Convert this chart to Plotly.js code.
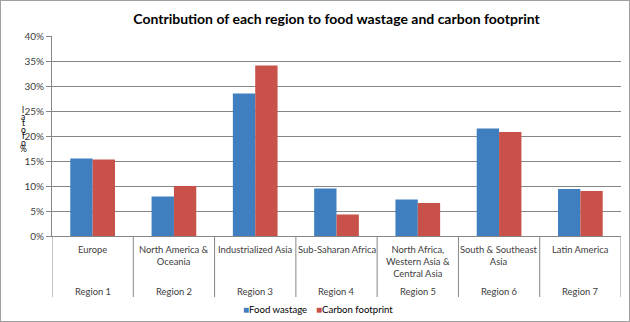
<!DOCTYPE html>
<html>
<head>
<meta charset="utf-8">
<script src="https://cdn.plot.ly/plotly-3.0.1.min.js"></script>
<style>
html,body{margin:0;padding:0;background:#fff;}
#wrap{position:relative;width:630px;height:322px;}
#chart{width:630px;height:322px;}
#frame{position:absolute;left:0;top:0;width:630px;height:322px;box-sizing:border-box;border:1px solid #a0a0a0;pointer-events:none;}
</style>
</head>
<body>
<div id="wrap"><div id="chart"></div><div id="frame"></div></div>
<script>
const regionCodes = ["Region 1","Region 2","Region 3","Region 4","Region 5","Region 6","Region 7"];
const regionNames = ["Europe","North America &<br>Oceania","Industrialized Asia","Sub-Saharan Africa","North Africa,<br>Western Asia &<br>Central Asia","South & Southeast<br>Asia","Latin America"];
const foodWastage = [0.155, 0.079, 0.285, 0.095, 0.073, 0.215, 0.094];
const carbonFootprint = [0.153, 0.100, 0.341, 0.043, 0.066, 0.208, 0.090];
const yTickVals = [0,0.05,0.10,0.15,0.20,0.25,0.30,0.35,0.40];
const yTickText = ["0%","5%","10%","15%","20%","25%","30%","35%","40%"];
const yTitleGlyphs = ["l","a","t","o","f","o","%"];
const seriesNames = ["Food wastage","Carbon footprint"];
const seriesColors = ["#3f7fbf","#c8524a"];

const FONT = "Lato, 'Open Sans', sans-serif";
const L = 52, R = 621, T = 36, B = 236, W = 630, H = 322;
const py = p => (B - p) / (B - T);   // pixel row -> paper y
const px = p => (p - L) / (R - L);   // pixel col -> paper x

const traces = [
  {type:"bar", name:seriesNames[0], x:regionCodes, y:foodWastage,
   marker:{color:seriesColors[0]}, showlegend:false},
  {type:"bar", name:seriesNames[1], x:regionCodes, y:carbonFootprint,
   marker:{color:seriesColors[1]}, showlegend:false}
];

const annotations = [];
yTitleGlyphs.forEach((g,i)=>annotations.push({
  text:g, xref:"paper", yref:"paper", showarrow:false,
  x:px(23), y:py(110+i*6.5), xanchor:"center", yanchor:"middle",
  font:{family:FONT, size:8.5, color:"#000"}
}));
regionCodes.forEach((c,i)=>{
  annotations.push({text:regionNames[i], x:c, xref:"x", yref:"paper", y:py(242), yanchor:"top",
    xanchor:"center", align:"center", showarrow:false,
    font:{family:FONT, size:9.4, color:"#404040"}});
  annotations.push({text:c, x:c, xref:"x", yref:"paper", y:py(291), yanchor:"middle",
    xanchor:"center", showarrow:false,
    font:{family:FONT, size:9.4, color:"#404040"}});
});
// legend: coloured square + series name
const legendX = [241, 314];
seriesNames.forEach((n,i)=>annotations.push({
  text:"<span style='color:" + seriesColors[i] + ";font-size:10px'>■</span>" + n,
  xref:"paper", yref:"paper", x:px(legendX[i]), y:py(309), xanchor:"left", yanchor:"middle",
  showarrow:false, font:{family:FONT, size:9.6, color:"#000"}
}));

const shapes = [];
for (let i = 0; i <= regionCodes.length; i++) {
  shapes.push({type:"line", xref:"x", yref:"paper", x0:i-0.5, x1:i-0.5, y0:0, y1:py(297),
    line:{color:"#868686", width:1}});
}

const layout = {
  width:W, height:H,
  margin:{l:L, r:W-R, t:T, b:H-B, pad:0, autoexpand:false},
  paper_bgcolor:"#fff", plot_bgcolor:"#fff",
  title:{text:"<b>Contribution of each region to food wastage and carbon footprint</b>",
    x:0.5, xref:"paper", y:1-19/H, yref:"container", yanchor:"middle", xanchor:"center",
    font:{family:FONT, size:14, color:"#000"}},
  font:{family:FONT, size:10, color:"#404040"},
  barmode:"group", bargap:0.45, bargroupgap:0,
  xaxis:{type:"category", range:[-0.5, regionCodes.length-0.5], showline:true, linecolor:"#868686", linewidth:1,
    showticklabels:false, automargin:false, showgrid:false, ticks:"", fixedrange:true},
  yaxis:{range:[0,0.4], tickvals:yTickVals, ticktext:yTickText,
    showgrid:true, gridcolor:"#868686", gridwidth:1,
    showline:true, linecolor:"#868686", linewidth:1,
    ticks:"outside", ticklen:5, tickcolor:"#868686",
    tickfont:{family:FONT, size:10, color:"#404040"},
    zeroline:false, automargin:false, fixedrange:true},
  showlegend:false,
  annotations:annotations,
  shapes:shapes
};

Plotly.newPlot("chart", traces, layout, {displayModeBar:false, staticPlot:true});
</script>
</body>
</html>
